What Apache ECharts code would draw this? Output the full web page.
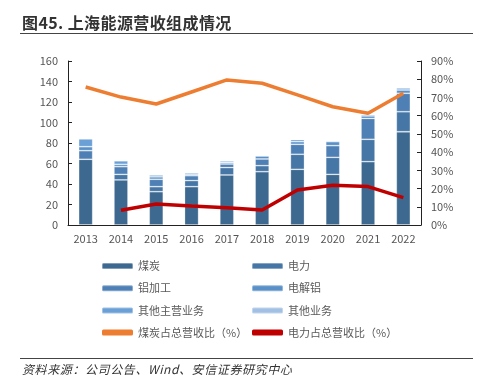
<!DOCTYPE html>
<html>
<head>
<meta charset="utf-8">
<script src="https://cdn.jsdelivr.net/npm/echarts@6/dist/echarts.min.js"></script>
<style>
html,body{margin:0;padding:0;background:#fff;}
#main{width:480px;height:376px;position:relative;}
.title{position:absolute;left:22px;top:10px;font-family:"Noto Sans CJK SC","Noto Sans",sans-serif;font-weight:bold;font-size:16px;letter-spacing:0.4px;color:#333;}
.rule{position:absolute;left:20px;width:453px;height:0;border-top:1.5px solid #444;}
.src{position:absolute;left:22px;top:360px;font-family:"Noto Sans CJK SC",sans-serif;font-style:italic;font-size:12px;letter-spacing:0.6px;color:#333;}
#chart{position:absolute;left:0;top:0;width:480px;height:376px;}
</style>
</head>
<body>
<div id="main">
  <div id="chart"></div>
  <div class="title">图45. 上海能源营收组成情况</div>
  <div class="rule" style="top:33px"></div>
  <div class="rule" style="top:358px"></div>
  <div class="src">资料来源：公司公告、Wind、安信证券研究中心</div>
</div>
<script>
var years = ['2013','2014','2015','2016','2017','2018','2019','2020','2021','2022'];
// 营收（亿元）
var coal      = [64.1, 44.0, 32.5, 37.4, 48.8, 52.0, 54.3, 49.4, 61.8, 91.0];
var power     = ['-', 5.4, 4.9, 5.9, 7.2, 5.9, 14.7, 16.6, 21.8, 19.5];
var alProc    = [8.4, 7.5, 7.2, 4.8, 3.5, 6.5, 9.7, 11.4, 20.4, 18.0];
var alElec    = [3.9, 2.3, 2.4, 1.4, 1.5, 2.9, 2.6, 3.9, 2.4, 3.2];
var otherMain = [7.6, 3.4, 1.8, 1.4, 1.5, 0.8, 2.0, 1.0, 1.3, 2.0];
var otherBiz  = [0.6, 0.8, 0.6, 0.5, 0.5, 0.5, 0.6, 0.6, 0.6, 0.6];
// 占比（%）
var coalShare  = [75.7, 70.2, 66.4, 73.0, 79.6, 77.8, 71.4, 64.9, 61.3, 72.3];
var powerShare = ['-', 8.1, 11.5, 10.4, 9.5, 8.2, 19.2, 21.8, 21.1, 15.0];

var font = '"Noto Sans CJK SC","Noto Sans",sans-serif';
function bar(name, data, color) {
    return {name: name, type: 'bar', stack: 'rev', data: data, barWidth: 14,
        itemStyle: {color: color, borderColor: 'rgba(255,255,255,0.35)', borderWidth: 0.8}};
}
function line(name, data, color) {
    return {name: name, type: 'line', yAxisIndex: 1, data: data, symbol: 'none',
        lineStyle: {width: 3.5, color: color}, itemStyle: {color: color}, z: 5};
}
var legendText = {fontFamily: font, fontSize: 11, color: '#595959'};

var myChart = echarts.init(document.getElementById('chart'));
myChart.setOption({
    animation: false,
    grid: {left: 68, right: 59, top: 61, bottom: 151},
    legend: [{
        left: 96, top: 255.5, orient: 'vertical', itemWidth: 31, itemHeight: 6, itemGap: 11.2,
        textStyle: legendText,
        data: ['煤炭', '铝加工', '其他主营业务', {name: '煤炭占总营收比（%）', icon: 'roundRect'}]
    }, {
        left: 246, top: 255.5, orient: 'vertical', itemWidth: 31, itemHeight: 6, itemGap: 11.2,
        textStyle: legendText,
        data: ['电力', '电解铝', '其他业务', {name: '电力占总营收比（%）', icon: 'roundRect'}]
    }],
    xAxis: {
        type: 'category', data: years,
        axisLine: {lineStyle: {color: '#222', width: 1}},
        axisTick: {inside: true, length: 4, lineStyle: {color: '#222'}},
        axisLabel: {fontFamily: font, fontSize: 11, color: '#555', margin: 8}
    },
    yAxis: [{
        type: 'value', min: 0, max: 160, interval: 20,
        splitLine: {show: false},
        axisLine: {show: true, lineStyle: {color: '#222'}},
        axisTick: {show: true, inside: true, length: 4, lineStyle: {color: '#222'}},
        axisLabel: {fontFamily: font, fontSize: 11, color: '#555', margin: 10}
    }, {
        type: 'value', min: 0, max: 90, interval: 10,
        splitLine: {show: false},
        axisLine: {show: true, lineStyle: {color: '#222'}},
        axisTick: {show: true, inside: true, length: 4, lineStyle: {color: '#222'}},
        axisLabel: {fontFamily: font, fontSize: 11, color: '#555', margin: 10, formatter: '{value}%'}
    }],
    series: [
        bar('煤炭', coal, '#3d6890'),
        bar('电力', power, '#4676a6'),
        bar('铝加工', alProc, '#4e80b6'),
        bar('电解铝', alElec, '#5a90c8'),
        bar('其他主营业务', otherMain, '#6aa0d6'),
        bar('其他业务', otherBiz, '#a2c0e3'),
        line('煤炭占总营收比（%）', coalShare, '#ed7d31'),
        line('电力占总营收比（%）', powerShare, '#c00000')
    ]
});
</script>
</body>
</html>
